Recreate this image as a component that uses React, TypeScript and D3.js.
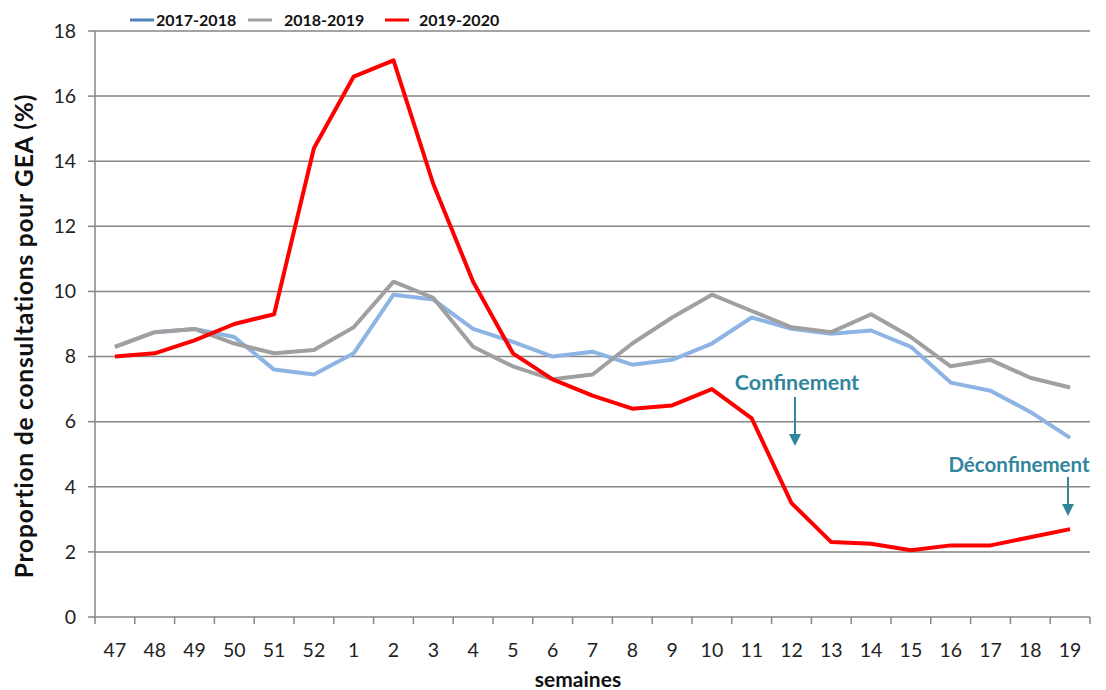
import React from "react";
import * as d3 from "d3";

const weeks = ["47","48","49","50","51","52","1","2","3","4","5","6","7","8","9","10","11","12","13","14","15","16","17","18","19"];
const s2017 = [8.3,8.75,8.85,8.6,7.6,7.45,8.1,9.9,9.75,8.85,8.45,8.0,8.15,7.75,7.9,8.4,9.2,8.85,8.7,8.8,8.3,7.2,6.95,6.3,5.5];
const s2018 = [8.3,8.75,8.85,8.4,8.1,8.2,8.9,10.3,9.8,8.3,7.7,7.3,7.45,8.4,9.2,9.9,9.4,8.9,8.75,9.3,8.6,7.7,7.9,7.35,7.05];
const s2019 = [8.0,8.1,8.5,9.0,9.3,14.4,16.6,17.1,13.3,10.3,8.1,7.3,6.8,6.4,6.5,7.0,6.1,3.5,2.3,2.25,2.05,2.2,2.2,2.45,2.7];
const yTicks = [0,2,4,6,8,10,12,14,16,18];

const seriesNames = ["2017-2018","2018-2019","2019-2020"];
const lineColors = ["#8db4e2","#a0a0a0","#ff0000"];
const legendColors = ["#4f81bd","#a0a0a0","#ff0000"];

export default function App() {
  const W = 1106, H = 690;
  const left = 95, right = 1090, top = 31, bottom = 617;
  const x = d3.scaleBand<string>().domain(weeks).range([left, right]).padding(0);
  const y = d3.scaleLinear().domain([0, 18]).range([bottom, top]);
  const cx = (w: string) => (x(w) as number) + x.bandwidth() / 2;
  const line = d3.line<number>().x((_, i) => cx(weeks[i])).y(d => y(d)).curve(d3.curveLinear);
  const series = [s2017, s2018, s2019];
  const font = "Lato, 'Open Sans', sans-serif";
  const teal = "#31859c";
  const boundaries = weeks.map(w => x(w) as number).concat([right]);

  const legendItems = [
    { lx: 130, tx: 156 },
    { lx: 248, tx: 284 },
    { lx: 385, tx: 419 },
  ];

  return (
    <svg width={W} height={H} style={{ position: "absolute", left: 0, top: 0, background: "#fff" }} fontFamily={font}>
      {yTicks.filter(t => t > 0).map(t => (
        <line key={t} x1={left} x2={right} y1={y(t)} y2={y(t)} stroke="#868686" strokeWidth={1.5} />
      ))}
      <line x1={left} x2={left} y1={top} y2={bottom} stroke="#868686" strokeWidth={1.5} />
      <line x1={left} x2={right} y1={bottom} y2={bottom} stroke="#868686" strokeWidth={1.5} />
      {yTicks.map(t => (
        <g key={t}>
          <line x1={left - 7} x2={left} y1={y(t)} y2={y(t)} stroke="#868686" strokeWidth={1.5} />
          <text x={76} y={y(t)} dy="0.35em" textAnchor="end" fontSize={19.5} fill="#222">{t}</text>
        </g>
      ))}
      {boundaries.map((b, i) => (
        <line key={i} x1={b} x2={b} y1={bottom} y2={bottom + 7} stroke="#868686" strokeWidth={1.5} />
      ))}
      {weeks.map(w => (
        <text key={w} x={cx(w)} y={657} textAnchor="middle" fontSize={19.5} fill="#222">{w}</text>
      ))}
      <text x={578} y={687} textAnchor="middle" fontSize={21} fontWeight="bold" fill="#111">semaines</text>
      <text transform={`translate(33,336) rotate(-90)`} textAnchor="middle" fontSize={24.5} letterSpacing={0.8} fontWeight="bold" fill="#111">
        Proportion de consultations pour GEA (%)
      </text>
      {series.map((s, i) => (
        <path key={i} d={line(s) || ""} fill="none" stroke={lineColors[i]} strokeWidth={4} strokeLinejoin="round" />
      ))}
      {legendItems.map((it, i) => (
        <g key={i}>
          <line x1={it.lx} x2={it.lx + 24} y1={20} y2={20} stroke={legendColors[i]} strokeWidth={3} />
          <text x={it.tx} y={20} dy="0.35em" fontSize={16} fontWeight="bold" fill="#111">{seriesNames[i]}</text>
        </g>
      ))}
      <text x={797} y={382} dy="0.35em" textAnchor="middle" fontSize={21.5} fontWeight="bold" fill={teal}>Confinement</text>
      <line x1={795} x2={795} y1={397} y2={436} stroke={teal} strokeWidth={2} />
      <path d="M789,434 L801,434 L795,446 Z" fill={teal} />
      <text x={1019} y={465} dy="0.35em" textAnchor="middle" fontSize={20.5} fontWeight="bold" fill={teal}>Déconfinement</text>
      <line x1={1068} x2={1068} y1={477} y2={506} stroke={teal} strokeWidth={2} />
      <path d="M1062,504 L1074,504 L1068,516 Z" fill={teal} />
    </svg>
  );
}
